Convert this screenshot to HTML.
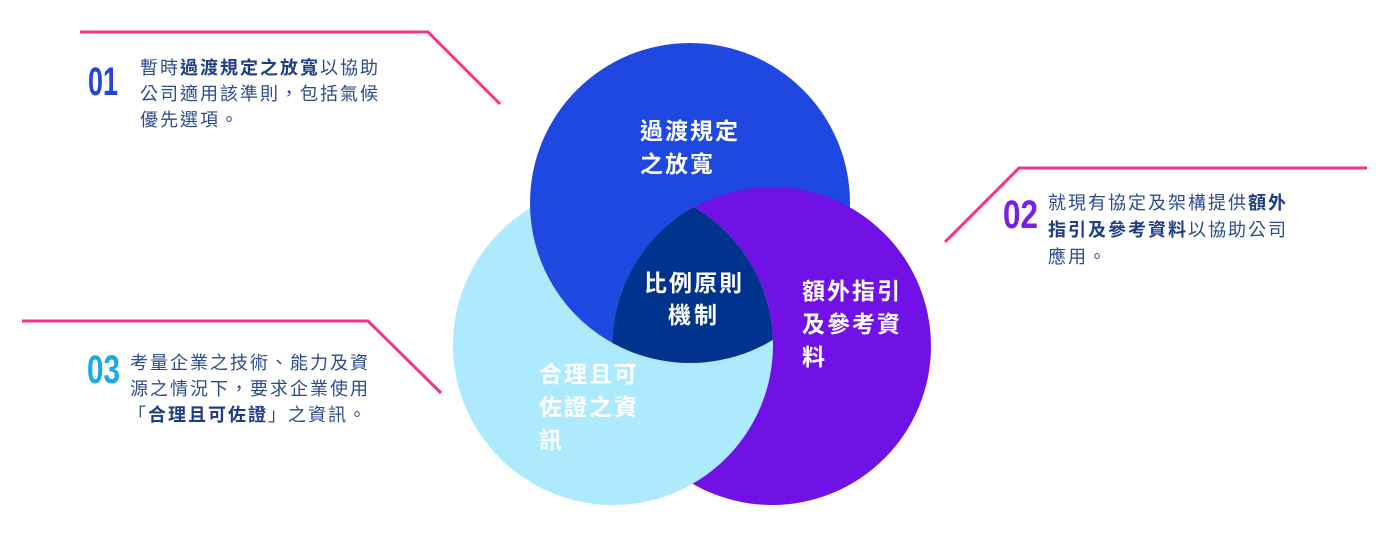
<!DOCTYPE html>
<html><head><meta charset="utf-8"><style>
html,body{margin:0;padding:0;background:#fff;width:1400px;height:535px;overflow:hidden}
svg{display:block}
.t{font-family:"Liberation Sans","Noto Sans CJK TC",sans-serif;font-size:18px;fill:#2b4b8e;letter-spacing:2px}
.b{font-weight:bold;fill:#1d3d86}
.c{font-family:"Liberation Sans","Noto Sans CJK TC",sans-serif;font-size:23px;font-weight:bold;fill:#fff}
.n{font-family:"Liberation Sans Narrow","Liberation Sans",sans-serif;font-weight:bold;font-size:40px}
</style></head><body>
<svg width="1400" height="535" viewBox="0 0 1400 535">
<defs>
<clipPath id="cp"><circle cx="772" cy="346" r="159.8"/></clipPath>
<clipPath id="cl"><circle cx="613" cy="345" r="160"/></clipPath>
</defs>
<g stroke="#f5338a" stroke-width="3" fill="none">
<polyline points="80,32 428,32 500,104"/>
<polyline points="945,242 1019,168 1367,168"/>
<polyline points="22,321 368,321 441,393"/>
</g>
<circle cx="613" cy="345" r="160" fill="#aeeafd"/>
<circle cx="690" cy="203" r="160" fill="#1f48e0"/>
<circle cx="772" cy="346" r="159" fill="#7012e6"/>
<g clip-path="url(#cp)"><circle cx="613" cy="345" r="160" fill="#aeeafd"/>
<g clip-path="url(#cl)"><circle cx="690" cy="203" r="160" fill="#00338d"/></g></g>

<text class="c" x="640" y="139" textLength="98">過渡規定</text>
<text class="c" x="640" y="172" textLength="73">之放寬</text>
<text class="c" x="644" y="291" textLength="98">比例原則</text>
<text class="c" x="668" y="323" textLength="49">機制</text>
<text class="c" x="802" y="299" textLength="98">額外指引</text>
<text class="c" x="802" y="332" textLength="98">及參考資</text>
<text class="c" x="802" y="365">料</text>
<text class="c" x="539" y="382" textLength="98">合理且可</text>
<text class="c" x="539" y="415" textLength="98">佐證之資</text>
<text class="c" x="539" y="448">訊</text>

<text class="n" x="88" y="95" textLength="30" lengthAdjust="spacingAndGlyphs" fill="#2346d8">01</text>
<text class="n" x="1003" y="228" textLength="35" lengthAdjust="spacingAndGlyphs" fill="#7a1ee6">02</text>
<text class="n" x="87" y="383" textLength="33" lengthAdjust="spacingAndGlyphs" fill="#1aa8e8">03</text>

<text class="t" x="140" y="74">暫時<tspan class="b">過渡規定之放寬</tspan>以協助</text>
<text class="t" x="140" y="100">公司適用該準則，包括氣候</text>
<text class="t" x="140" y="126">優先選項。</text>

<text class="t" x="1048" y="209">就現有協定及架構提供<tspan class="b">額外</tspan></text>
<text class="t" x="1048" y="236"><tspan class="b">指引及參考資料</tspan>以協助公司</text>
<text class="t" x="1048" y="263">應用。</text>

<text class="t" x="130" y="369">考量企業之技術、能力及資</text>
<text class="t" x="130" y="395">源之情況下，要求企業使用</text>
<text class="t" x="128" y="421">「<tspan class="b">合理且可佐證</tspan>」之資訊。</text>
</svg>
</body></html>
